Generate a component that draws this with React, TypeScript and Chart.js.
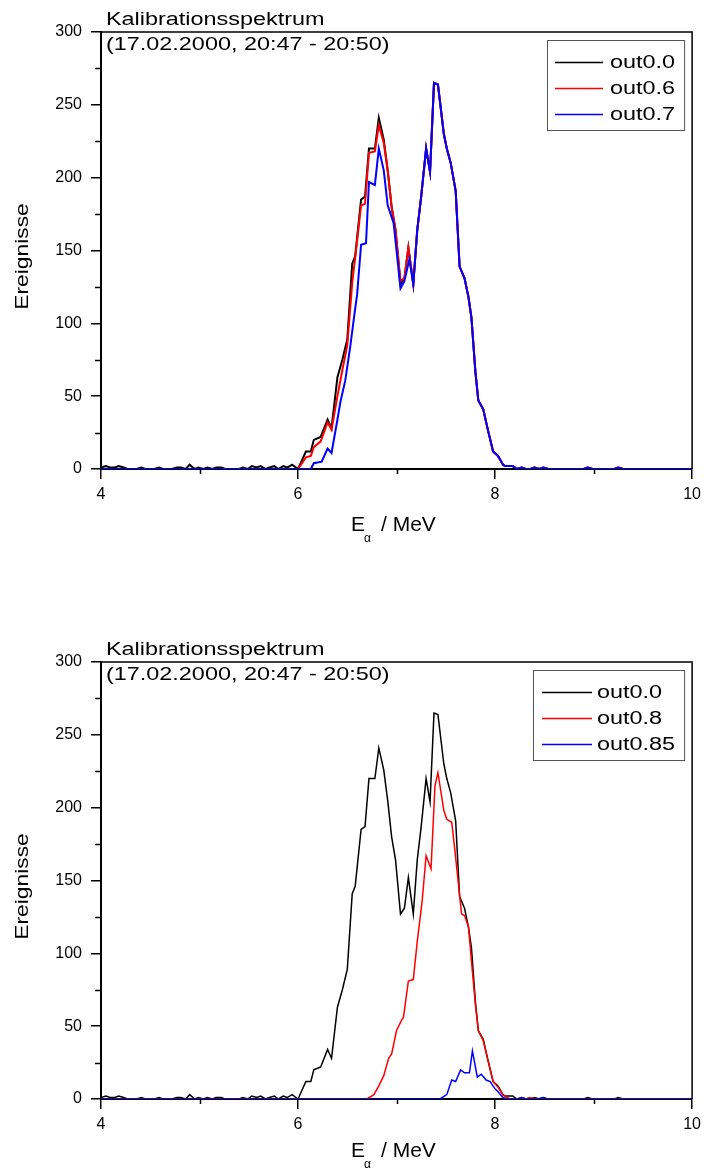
import React, { useEffect, useRef } from "react";
import { Chart, registerables } from "chart.js";

Chart.register(...registerables);

// ---------- data ----------
const out00Energy = [
  4.0, 4.05, 4.09, 4.14, 4.18, 4.23, 4.27, 4.36, 4.41, 4.45, 4.54, 4.59, 4.63, 4.72, 4.77, 4.81, 4.86, 4.9, 4.95, 4.99,
  5.04, 5.08, 5.13, 5.17, 5.22, 5.26, 5.4, 5.44, 5.49, 5.53, 5.58, 5.62, 5.67, 5.71, 5.76, 5.8, 5.85, 5.89, 5.94,
  6.0, 6.08, 6.13, 6.16, 6.23, 6.3, 6.34, 6.4, 6.45, 6.5, 6.55, 6.58, 6.64, 6.68, 6.72, 6.78, 6.82, 6.87, 6.91, 6.95,
  6.99, 7.04, 7.08, 7.12, 7.17, 7.21, 7.25, 7.3, 7.34, 7.38, 7.42, 7.48, 7.51, 7.55, 7.6, 7.64, 7.69, 7.73, 7.76, 7.8,
  7.83, 7.88, 7.93, 7.98, 8.03, 8.08, 8.1, 8.18, 8.22, 8.27, 8.31, 8.36, 8.4, 8.45, 8.49, 8.54, 8.9, 8.94, 8.99, 9.21,
  9.25, 9.3, 10.0,
];
const out00Counts = [
  1, 2, 1, 1, 2, 1, 0, 0, 1, 0, 0, 1, 0, 0, 1, 1, 0, 3, 0, 1,
  0, 1, 0, 1, 1, 0, 0, 1, 0, 2, 1, 2, 0, 1, 2, 0, 2, 1, 3,
  0, 12, 12, 20, 22, 34, 28, 63, 75, 89, 141, 146, 185, 187, 220, 220, 241, 226, 205, 180,
  164, 127, 131, 152, 127, 164, 187, 220, 204, 265, 264, 230, 220, 210, 191, 139, 131, 118, 104, 67,
  47, 41, 26, 12, 9, 3, 2, 2, 0, 1, 0, 0, 1, 0, 1, 0, 0, 1, 0, 0,
  1, 0, 0,
];

const out06Energy = [
  4.0, 6.0, 6.08, 6.13, 6.16, 6.23, 6.3, 6.34, 6.4, 6.45, 6.5, 6.55, 6.58, 6.64, 6.68, 6.72, 6.78, 6.82, 6.87, 6.91,
  6.95, 6.99, 7.04, 7.08, 7.12, 7.17, 7.21, 7.25, 7.3, 7.34, 7.38, 7.42, 7.48, 7.51, 7.55, 7.6, 7.64, 7.69, 7.73, 7.76,
  7.8, 7.83, 7.88, 7.93, 7.98, 8.03, 8.08, 8.1, 8.18, 8.22, 8.27, 8.31, 8.36, 8.4, 8.45, 8.49, 8.54, 8.9, 8.94, 8.99,
  9.21, 9.25, 9.3, 10.0,
];
const out06Counts = [
  0, 0, 8, 9, 15, 19, 32, 27, 50, 68, 85, 128, 145, 181, 182, 217, 218, 236, 224, 205,
  180, 164, 129, 131, 152, 127, 164, 187, 220, 204, 265, 264, 230, 220, 210, 191, 139, 131, 118, 104,
  67, 47, 41, 26, 12, 9, 3, 2, 2, 0, 1, 0, 0, 1, 0, 1, 0, 0, 1, 0,
  0, 1, 0, 0,
];

const out07Energy = [
  4.0, 6.13, 6.16, 6.24, 6.3, 6.34, 6.4, 6.43, 6.48, 6.53, 6.57, 6.6, 6.64, 6.69, 6.72, 6.78, 6.82, 6.87, 6.91, 6.97,
  7.04, 7.08, 7.13, 7.17, 7.21, 7.25, 7.3, 7.34, 7.38, 7.42, 7.48, 7.51, 7.55, 7.6, 7.64, 7.69, 7.73, 7.76, 7.8, 7.83,
  7.88, 7.93, 7.98, 8.03, 8.08, 8.1, 8.18, 8.22, 8.27, 8.31, 8.36, 8.4, 8.45, 8.49, 8.54, 8.9, 8.94, 8.99, 9.21, 9.25,
  9.3, 10.0,
];
const out07Counts = [
  0, 0, 4, 5, 14, 11, 34, 46, 61, 84, 105, 120, 154, 155, 197, 195, 220, 205, 181, 169,
  124, 129, 144, 127, 164, 187, 220, 204, 265, 264, 230, 220, 210, 191, 139, 131, 118, 104, 67, 47,
  41, 26, 12, 9, 3, 2, 2, 0, 1, 0, 0, 1, 0, 1, 0, 0, 1, 0, 0, 1,
  0, 0,
];

const out08Energy = [
  4.0, 6.7, 6.77, 6.82, 6.87, 6.92, 6.95, 7.0, 7.05, 7.07, 7.12, 7.17, 7.21, 7.26, 7.3, 7.35, 7.39, 7.42, 7.48, 7.51,
  7.56, 7.59, 7.66, 7.69, 7.73, 7.76, 7.8, 7.83, 7.88, 7.93, 7.98, 8.03, 8.08, 8.12, 8.16, 8.31, 8.35, 8.4, 10.0,
];
const out08Counts = [
  0, 0, 3, 9, 16, 28, 31, 47, 54, 56, 81, 82, 108, 136, 167, 158, 215, 224, 198, 192,
  190, 172, 127, 126, 118, 95, 65, 47, 40, 26, 12, 8, 3, 1, 0, 0, 1, 0, 0,
];

const out085Energy = [
  4.0, 7.44, 7.51, 7.56, 7.6, 7.65, 7.69, 7.74, 7.77, 7.82, 7.86, 7.91, 7.95, 8.0, 8.03, 8.08, 8.12, 8.23, 8.27, 8.31,
  8.44, 8.48, 8.52, 10.0,
];
const out085Counts = [
  0, 0, 3, 13, 12, 20, 18, 18, 33, 15, 17, 13, 12, 7, 5, 1, 0, 0, 1, 0,
  0, 1, 0, 0,
];

const xMajorTicks = [4, 6, 8, 10];
const xMinorTicks = [5, 7, 9];
const yMinorTicks = [25, 75, 125, 175, 225, 275];

const titleLine1 = "Kalibrationsspektrum";
const titleLine2 = "(17.02.2000, 20:47 - 20:50)";
const yTitle = "Ereignisse";

// ---------- helpers ----------
const FONT = "'Liberation Sans', Arial, sans-serif";

type Series = { label: string; color: string; energy: number[]; counts: number[] };

function toPoints(e: number[], c: number[]) {
  return e.map((x, i) => ({ x, y: c[i] }));
}

function stretchText(ctx: CanvasRenderingContext2D, text: string, x: number, y: number, sx: number) {
  ctx.save();
  ctx.translate(x, y);
  ctx.scale(sx, 1);
  ctx.fillText(text, 0, 0);
  ctx.restore();
}

type PanelProps = {
  series: Series[];
  height: number;
  lineWidth: number;
  legendLeft: number;
  legendLineStart: number;
  legendLineEnd: number;
  legendTextX: number;
  xLabelBase: number;
};

function Panel(props: PanelProps) {
  const ref = useRef<HTMLCanvasElement | null>(null);
  useEffect(() => {
    if (!ref.current) return;
    const H = props.height;
    const decor = {
      id: "decor",
      afterDraw(chart: any) {
        const { ctx, chartArea: ca, scales } = chart;
        const x = scales.x;
        const y = scales.y;
        ctx.save();
        ctx.strokeStyle = "#000";
        ctx.lineWidth = 1.5;
        ctx.beginPath();
        ctx.moveTo(ca.left, ca.top);
        ctx.lineTo(ca.right, ca.top);
        ctx.lineTo(ca.right, ca.bottom);
        ctx.stroke();
        // minor ticks
        ctx.beginPath();
        for (const v of yMinorTicks) {
          const py = Math.round(y.getPixelForValue(v)) + 0.5;
          ctx.moveTo(ca.left - 6, py);
          ctx.lineTo(ca.left, py);
        }
        for (const v of xMinorTicks) {
          const px = Math.round(x.getPixelForValue(v)) + 0.5;
          ctx.moveTo(px, ca.bottom);
          ctx.lineTo(px, ca.bottom + 5);
        }
        ctx.stroke();

        // titles
        ctx.fillStyle = "#000";
        ctx.textAlign = "left";
        ctx.textBaseline = "alphabetic";
        ctx.font = `18px ${FONT}`;
        stretchText(ctx, titleLine1, 106, 25, 1.3);
        stretchText(ctx, titleLine2, 106, 50, 1.3);

        // legend
        const lx = props.legendLeft;
        const rows = props.series.length;
        ctx.strokeStyle = "#555";
        ctx.lineWidth = 1;
        ctx.strokeRect(lx + 0.5, ca.top + 8.5, ca.right - 8 - lx, 26 * rows + 12);
        ctx.textBaseline = "middle";
        props.series.forEach((s, i) => {
          const ry = ca.top + 30.5 + i * 26;
          ctx.strokeStyle = s.color;
          ctx.lineWidth = 1.5;
          ctx.beginPath();
          ctx.moveTo(props.legendLineStart, ry);
          ctx.lineTo(props.legendLineEnd, ry);
          ctx.stroke();
          ctx.fillStyle = "#000";
          stretchText(ctx, s.label, props.legendTextX, ry + 1, 1.3);
        });

        // y axis title
        ctx.save();
        ctx.translate(23, (ca.top + ca.bottom) / 2 + 6);
        ctx.rotate(-Math.PI / 2);
        ctx.scale(1.2, 1);
        ctx.textAlign = "center";
        ctx.textBaseline = "middle";
        ctx.font = `19px ${FONT}`;
        ctx.fillText(yTitle, 0, 0);
        ctx.restore();

        // x axis title  E_alpha / MeV
        ctx.textAlign = "left";
        ctx.textBaseline = "alphabetic";
        ctx.font = `21px ${FONT}`;
        const b = props.xLabelBase;
        ctx.fillText("E", 351, b);
        ctx.font = `12px ${FONT}`;
        ctx.fillText("\u03b1", 364, b + 11);
        ctx.font = `21px ${FONT}`;
        ctx.fillText("/ MeV", 381, b);
        ctx.restore();
      },
    };

    const chart = new Chart(ref.current, {
      type: "line",
      data: {
        datasets: props.series.map((s, i) => ({
          label: s.label,
          data: toPoints(s.energy, s.counts),
          borderColor: s.color,
          backgroundColor: s.color,
          borderWidth: props.lineWidth,
          pointRadius: 0,
          tension: 0,
          fill: false,
          order: props.series.length - i,
        })),
      },
      options: {
        animation: false,
        responsive: false,
        maintainAspectRatio: false,
        layout: { padding: { top: 32, right: 13, left: 0, bottom: 0 } },
        plugins: { legend: { display: false }, tooltip: { enabled: false }, title: { display: false } },
        scales: {
          x: {
            type: "linear",
            min: 4,
            max: 10,
            afterBuildTicks: (s: any) => {
              s.ticks = xMajorTicks.map((v) => ({ value: v }));
            },
            afterFit: (s: any) => {
              s.height = H - 469;
            },
            grid: { drawOnChartArea: false, drawTicks: true, tickLength: 10, color: "#000", lineWidth: 1.5 },
            border: { display: true, color: "#000", width: 2 },
            ticks: { color: "#000", font: { size: 16, family: FONT }, padding: 6, maxRotation: 0, autoSkip: false },
          },
          y: {
            type: "linear",
            min: 0,
            max: 300,
            afterFit: (s: any) => {
              s.width = 101;
            },
            grid: { drawOnChartArea: false, drawTicks: true, tickLength: 10, color: "#000", lineWidth: 1.5 },
            border: { display: true, color: "#000", width: 2 },
            ticks: { color: "#000", font: { size: 16, family: FONT }, padding: 9, stepSize: 50 },
          },
        },
      },
      plugins: [decor],
    } as any);
    return () => chart.destroy();
  }, []);
  return <canvas ref={ref} width={707} height={props.height} style={{ display: "block" }} />;
}

export default function App() {
  const top: Series[] = [
    { label: "out0.0", color: "#000000", energy: out00Energy, counts: out00Counts },
    { label: "out0.6", color: "#ff0000", energy: out06Energy, counts: out06Counts },
    { label: "out0.7", color: "#0000ff", energy: out07Energy, counts: out07Counts },
  ];
  const bottom: Series[] = [
    { label: "out0.0", color: "#000000", energy: out00Energy, counts: out00Counts },
    { label: "out0.8", color: "#ff0000", energy: out08Energy, counts: out08Counts },
    { label: "out0.85", color: "#0000ff", energy: out085Energy, counts: out085Counts },
  ];
  return (
    <div style={{ position: "absolute", left: 0, top: 0, width: 707, height: 1171, overflow: "hidden", background: "#fff" }}>
      <div style={{ position: "absolute", left: 0, top: 0 }}>
        <Panel series={top} height={585} lineWidth={2} legendLeft={547} legendLineStart={555} legendLineEnd={603}
          legendTextX={610} xLabelBase={531} />
      </div>
      <div style={{ position: "absolute", left: 0, top: 630 }}>
        <Panel series={bottom} height={541} lineWidth={1.5} legendLeft={533} legendLineStart={542} legendLineEnd={592}
          legendTextX={597} xLabelBase={527} />
      </div>
    </div>
  );
}
